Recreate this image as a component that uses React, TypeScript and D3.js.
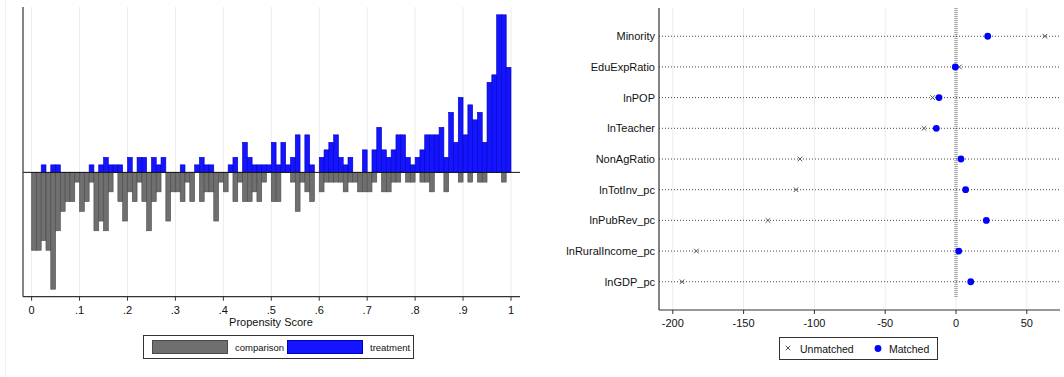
import React from 'react';
import * as d3 from 'd3';

// propensity score histogram, 100 bins of width .01 (counts per bin)
const treatmentCounts = [
  0, 0, 1, 0, 1, 1, 0, 0, 0, 0,
  0, 0, 1, 0, 1, 2, 1, 1, 1, 0,
  2, 0, 2, 2, 0, 2, 1, 2, 0, 0,
  0, 1, 0, 0, 1, 2, 1, 1, 0, 0,
  0, 1, 2, 0, 4, 2, 1, 1, 1, 1,
  4, 1, 4, 1, 2, 5, 0, 5, 1, 0,
  2, 3, 4, 5, 2, 1, 2, 0, 0, 3,
  0, 3, 6, 3, 2, 3, 5, 5, 2, 1,
  2, 3, 5, 5, 5, 6, 2, 8, 4, 10,
  5, 9, 7, 8, 4, 12, 13, 21, 21, 14,
];
const comparisonCounts = [
  8, 8, 7, 8, 12, 6, 4, 3, 3, 1,
  4, 3, 1, 6, 5, 6, 2, 0, 3, 5,
  2, 3, 1, 3, 6, 3, 2, 0, 5, 2,
  2, 3, 1, 3, 0, 3, 2, 2, 5, 1,
  2, 0, 3, 1, 3, 3, 2, 3, 1, 0,
  3, 3, 0, 0, 1, 4, 1, 2, 3, 0,
  2, 1, 1, 1, 1, 2, 1, 1, 2, 2,
  2, 1, 0, 2, 2, 1, 1, 0, 1, 1,
  0, 1, 1, 2, 0, 0, 2, 0, 0, 1,
  0, 1, 0, 1, 1, 0, 0, 0, 1, 0,
];
const binWidth = 0.01;
const psTicks = [0, 0.1, 0.2, 0.3, 0.4, 0.5, 0.6, 0.7, 0.8, 0.9, 1];
const psTickLabels = ['0', '.1', '.2', '.3', '.4', '.5', '.6', '.7', '.8', '.9', '1'];

// standardized bias before / after matching
const covariates = [
  'Minority', 'EduExpRatio', 'lnPOP', 'lnTeacher', 'NonAgRatio',
  'lnTotInv_pc', 'lnPubRev_pc', 'lnRuralIncome_pc', 'lnGDP_pc',
];
const unmatchedBias = [62.8, 2.4, -16.5, -22.6, -110.2, -113, -132.8, -183.4, -193.5];
const matchedBias = [22.4, -0.5, -12, -13.9, 3.5, 6.8, 21.4, 1.9, 10.4];
const biasTicks = [-200, -150, -100, -50, 0, 50];

const FONT = '"Liberation Sans", Arial, Helvetica, sans-serif';
const GRAY_FILL = '#6f6f6f';
const BLUE_FILL = '#1414ff';

function Histogram() {
  const left = 23, right = 520, top = 7, bottom = 296.7;
  const x = d3.scaleLinear().domain([0, 1]).range([31.6, 511]);
  const nT = d3.sum(treatmentCounts);
  const nC = d3.sum(comparisonCounts);
  // densities, treatment up and comparison down
  const y = d3.scaleLinear().domain([-5.94, 7.9]).range([bottom, top]);
  const dens = (c: number, n: number) => c / (n * binWidth);

  return (
    <g>
      <line x1={5.5} x2={5.5} y1={0} y2={377} stroke="#f1f1f1" />
      {psTicks.map((t) => (
        <line key={'g' + t} x1={x(t)} x2={x(t)} y1={top} y2={bottom} stroke="#ececec" strokeWidth={1} />
      ))}
      {treatmentCounts.map((c, i) =>
        c > 0 ? (
          <rect
            key={'t' + i}
            x={x(i * binWidth)}
            width={x((i + 1) * binWidth) - x(i * binWidth)}
            y={y(dens(c, nT))}
            height={y(0) - y(dens(c, nT))}
            fill={BLUE_FILL}
            stroke="#0000c0"
            strokeWidth={0.6}
          />
        ) : null
      )}
      {comparisonCounts.map((c, i) =>
        c > 0 ? (
          <rect
            key={'c' + i}
            x={x(i * binWidth)}
            width={x((i + 1) * binWidth) - x(i * binWidth)}
            y={y(0)}
            height={y(-dens(c, nC)) - y(0)}
            fill={GRAY_FILL}
            stroke="#4a4a4a"
            strokeWidth={0.6}
          />
        ) : null
      )}
      <line x1={left} x2={right} y1={y(0)} y2={y(0)} stroke="#111" strokeWidth={1} />
      <line x1={left} x2={left} y1={top} y2={bottom} stroke="#333" strokeWidth={1.2} />
      <line x1={left} x2={right} y1={bottom} y2={bottom} stroke="#333" strokeWidth={1.2} />
      {psTicks.map((t, i) => (
        <g key={'t' + t}>
          <line x1={x(t)} x2={x(t)} y1={bottom} y2={bottom + 4} stroke="#333" />
          <text x={x(t)} y={bottom + 17} textAnchor="middle" fontSize={11} fontFamily={FONT} fill="#111">
            {psTickLabels[i]}
          </text>
        </g>
      ))}
      <text x={271} y={326} textAnchor="middle" fontSize={11} fontFamily={FONT} fill="#111">
        Propensity Score
      </text>
      <rect x={143.5} y={335.5} width={270} height={23} fill="#fff" stroke="#333" strokeWidth={1} />
      <rect x={152.5} y={340.5} width={75} height={13} fill={GRAY_FILL} stroke="#4a4a4a" />
      <text x={235} y={351} fontSize={9.5} fontFamily={FONT} fill="#111">comparison</text>
      <rect x={287.5} y={340.5} width={75} height={13} fill={BLUE_FILL} stroke="#0000c0" />
      <text x={370} y={351} fontSize={9.5} fontFamily={FONT} fill="#111">treatment</text>
    </g>
  );
}

function BiasPlot() {
  const left = 659, right = 1060, top = 8, bottom = 310;
  const x = d3.scaleLinear().domain([0, 50]).range([956, 1026.8]);
  const y = d3.scalePoint<string>().domain(covariates).range([top, bottom]).padding(0.92);

  return (
    <g>
      {biasTicks.map((t) => (
        <line key={'g' + t} x1={x(t)} x2={x(t)} y1={top} y2={bottom} stroke="#ececec" />
      ))}
      <line x1={x(0)} x2={x(0)} y1={top} y2={bottom - 12} stroke="#a8a8a8" strokeWidth={3.5} strokeDasharray="1,1" />
      {covariates.map((c, i) => (
        <g key={c}>
          <line x1={left} x2={right} y1={y(c)} y2={y(c)} stroke="#444" strokeWidth={1} strokeDasharray="1,2" />
          <text x={655} y={(y(c) as number) + 4} textAnchor="end" fontSize={11} fontFamily={FONT} fill="#111">
            {c}
          </text>
          <path
            d={`M${x(unmatchedBias[i]) - 2.3},${(y(c) as number) - 2.3}l4.6,4.6M${x(unmatchedBias[i]) - 2.3},${(y(c) as number) + 2.3}l4.6,-4.6`}
            stroke="#555"
            strokeWidth={1}
            fill="none"
          />
          <circle cx={x(matchedBias[i])} cy={y(c)} r={3.4} fill="#0000ff" />
        </g>
      ))}
      <line x1={left} x2={left} y1={top} y2={bottom} stroke="#333" strokeWidth={1.2} />
      <line x1={left} x2={right} y1={bottom} y2={bottom} stroke="#333" strokeWidth={1.2} />
      {biasTicks.map((t) => (
        <g key={'t' + t}>
          <line x1={x(t)} x2={x(t)} y1={bottom} y2={bottom + 4} stroke="#333" />
          <text x={x(t)} y={bottom + 17} textAnchor="middle" fontSize={11} fontFamily={FONT} fill="#111">
            {t}
          </text>
        </g>
      ))}
      <rect x={779.5} y={337.5} width={158} height={22} fill="#fff" stroke="#333" strokeWidth={1} />
      <path d="M785.7,345.7l4.6,4.6M785.7,350.3l4.6,-4.6" stroke="#555" strokeWidth={1} fill="none" />
      <text x={800} y={352.5} fontSize={10.5} fontFamily={FONT} fill="#111">Unmatched</text>
      <circle cx={878} cy={348.5} r={3.4} fill="#0000ff" />
      <text x={889} y={352.5} fontSize={10.5} fontFamily={FONT} fill="#111">Matched</text>
    </g>
  );
}

export default function App() {
  return (
    <svg
      width={1064}
      height={377}
      style={{ position: 'absolute', left: 0, top: 0, background: '#fff' }}
    >
      <rect width={1064} height={377} fill="#fff" />
      <Histogram />
      <BiasPlot />
    </svg>
  );
}
